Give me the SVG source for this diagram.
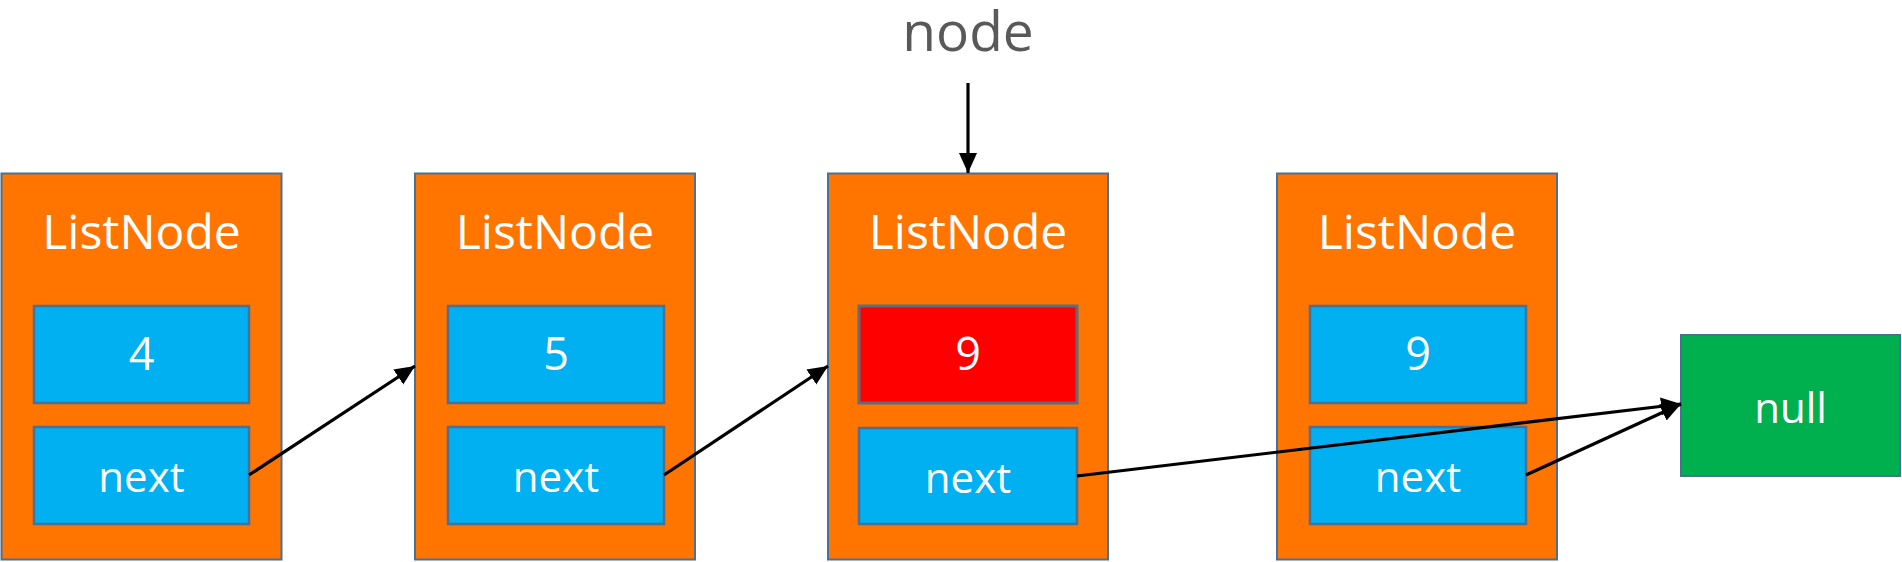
<svg xmlns="http://www.w3.org/2000/svg" width="1902" height="562" viewBox="0 0 1902 562">
  <defs>
    <marker id="arr" markerUnits="userSpaceOnUse" markerWidth="22" markerHeight="20" refX="20" refY="9" orient="auto">
      <path d="M0,0 L20,9 L0,18 z" fill="#000"/>
    </marker>
  </defs>
  <style>
    .outer { fill: #FF7500; stroke: #4A7096; stroke-width: 2; }
    .cell { fill: #00B0F0; stroke: #4A7096; stroke-width: 2.5; }
    .hot { fill: #FF0000; stroke: #5D6D7E; stroke-width: 3; }
    .nul { fill: #00B04F; stroke: #4A7096; stroke-width: 2; }
    .t { font-family: "Open Sans", "Noto Sans", sans-serif; fill: #FFFFFF; text-anchor: middle; }
    .title { font-size: 48px; }
    .val { font-size: 45px; }
    .nx { font-size: 42px; }
    .lbl { font-family: "Open Sans", "Noto Sans", sans-serif; fill: #595959; font-size: 55px; text-anchor: middle; }
    .conn { stroke: #000; stroke-width: 3.2; fill: none; marker-end: url(#arr); }
  </style>

  <g id="label-node">
    <text class="lbl" x="968" y="51">node</text>
  </g>

  <g id="node1">
    <rect class="outer" x="1.5" y="173.5" width="280" height="386"/>
    <text class="t title" x="141.5" y="249">ListNode</text>
    <rect class="cell" x="34" y="306" width="215" height="97"/>
    <text class="t val" x="141.5" y="370">4</text>
    <rect class="cell" x="34" y="427" width="215" height="97"/>
    <text class="t nx" x="141.5" y="492">next</text>
  </g>

  <g id="node2">
    <rect class="outer" x="415" y="173.5" width="280" height="386"/>
    <text class="t title" x="555" y="249">ListNode</text>
    <rect class="cell" x="448" y="306" width="216" height="97"/>
    <text class="t val" x="556" y="370">5</text>
    <rect class="cell" x="448" y="427" width="216" height="97"/>
    <text class="t nx" x="556" y="492">next</text>
  </g>

  <g id="node3">
    <rect class="outer" x="828" y="173.5" width="280" height="386"/>
    <text class="t title" x="968" y="249">ListNode</text>
    <rect class="hot" x="859" y="306" width="218" height="97"/>
    <text class="t val" x="968" y="370">9</text>
    <rect class="cell" x="859" y="428" width="218" height="96"/>
    <text class="t nx" x="968" y="493">next</text>
  </g>

  <g id="node4">
    <rect class="outer" x="1277" y="173.5" width="280" height="386"/>
    <text class="t title" x="1417" y="249">ListNode</text>
    <rect class="cell" x="1310" y="306" width="216" height="97"/>
    <text class="t val" x="1418" y="370">9</text>
    <rect class="cell" x="1310" y="427" width="216" height="97"/>
    <text class="t nx" x="1418" y="492">next</text>
  </g>

  <g id="null">
    <rect class="nul" x="1681" y="335" width="219" height="141"/>
    <text class="t nx" x="1790.5" y="423">null</text>
  </g>

  <g id="connectors">
    <line class="conn" x1="968" y1="83" x2="968" y2="173"/>
    <line class="conn" x1="249" y1="475" x2="415" y2="366"/>
    <line class="conn" x1="664" y1="475" x2="828" y2="366"/>
    <line class="conn" x1="1077" y1="476" x2="1681" y2="404"/>
    <line class="conn" x1="1526" y1="475" x2="1681" y2="404"/>
  </g>
</svg>
